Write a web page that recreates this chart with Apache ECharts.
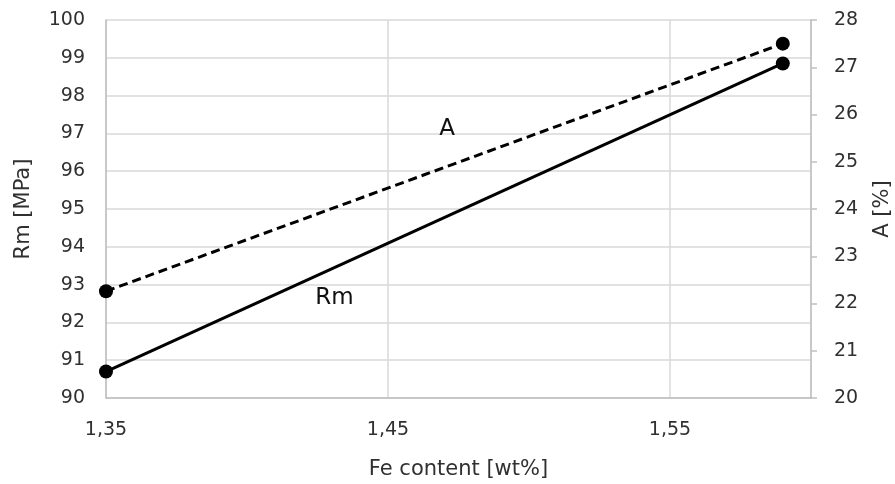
<!DOCTYPE html>
<html><head><meta charset="utf-8">
<script src="https://cdn.jsdelivr.net/npm/echarts@6/dist/echarts.min.js"></script>
<style>html,body{margin:0;padding:0;background:#fff}#c{width:895px;height:484px}</style>
</head><body><div id="c"></div>
<script>
const feContent = [1.35, 1.59];
const rmValues = [90.7, 98.85];
const aValues = [22.26, 27.5];
const xTicks = [1.35, 1.45, 1.55];
const rmLabelPos = [1.431, 92.65];
const aLabelPos = [1.471, 25.7];

const font = 'DejaVu Sans, sans-serif';
const txt = '#303030';
const chart = echarts.init(document.getElementById('c'));
const annot = (pos, text) => ({
  symbol: 'circle', symbolSize: 1, itemStyle: {color: 'rgba(0,0,0,0)'},
  label: {show: true, position: 'inside', formatter: text, color: '#111', fontSize: 23, fontFamily: font},
  data: [{coord: pos}]
});
chart.setOption({
  backgroundColor: '#fff',
  animation: false,
  grid: {left: 106, right: 84, top: 20, bottom: 86, containLabel: false, outerBoundsMode: 'none'},
  xAxis: {
    type: 'value', min: 1.35, max: 1.6, interval: 0.1,
    name: 'Fe content [wt%]', nameLocation: 'middle', nameGap: 61,
    nameTextStyle: {color: txt, fontSize: 21, fontFamily: font},
    axisLine: {show: true, lineStyle: {color: '#bfbfbf', width: 1.5}},
    axisTick: {show: false},
    splitLine: {show: true, lineStyle: {color: '#d9d9d9', width: 1.5}},
    axisLabel: {color: txt, fontSize: 19, fontFamily: font, margin: 23, showMaxLabel: false,
      formatter: v => xTicks.some(t => Math.abs(t - v) < 1e-6) ? v.toFixed(2).replace('.', ',') : ''}
  },
  yAxis: [{
    type: 'value', min: 90, max: 100, interval: 1, position: 'left',
    name: 'Rm [MPa]', nameLocation: 'middle', nameGap: 72,
    nameTextStyle: {color: txt, fontSize: 21, fontFamily: font},
    axisLine: {show: true, lineStyle: {color: '#bfbfbf', width: 1.5}},
    axisTick: {show: false},
    splitLine: {show: true, lineStyle: {color: '#d9d9d9', width: 1.5}},
    axisLabel: {color: txt, fontSize: 19, fontFamily: font, margin: 21}
  }, {
    type: 'value', min: 20, max: 28, interval: 1, position: 'right',
    name: 'A [%]', nameLocation: 'middle', nameGap: 61,
    nameTextStyle: {color: txt, fontSize: 21, fontFamily: font},
    axisLine: {show: true, lineStyle: {color: '#bfbfbf', width: 1.5}},
    axisTick: {show: true, length: 6, lineStyle: {color: '#bfbfbf', width: 1.5}},
    splitLine: {show: false},
    axisLabel: {color: txt, fontSize: 19, fontFamily: font, margin: 23}
  }],
  series: [{
    name: 'Rm', type: 'line', yAxisIndex: 0,
    data: feContent.map((x, i) => [x, rmValues[i]]),
    symbol: 'circle', symbolSize: 14,
    lineStyle: {color: '#000', width: 3},
    itemStyle: {color: '#000'},
    markPoint: annot(rmLabelPos, 'Rm')
  }, {
    name: 'A', type: 'line', yAxisIndex: 1,
    data: feContent.map((x, i) => [x, aValues[i]]),
    symbol: 'circle', symbolSize: 14,
    lineStyle: {color: '#000', width: 3, type: [9, 5]},
    itemStyle: {color: '#000'},
    markPoint: annot(aLabelPos, 'A')
  }]
});
</script></body></html>
